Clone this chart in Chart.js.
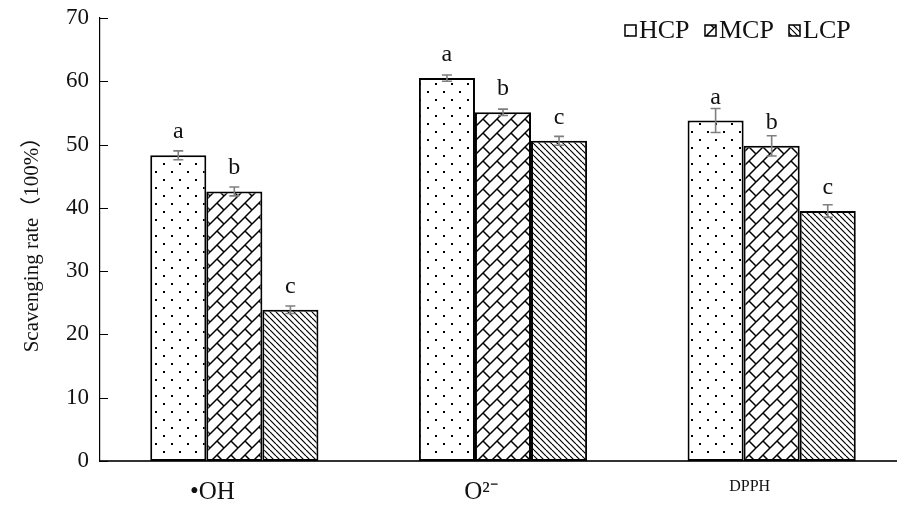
<!DOCTYPE html>
<html>
<head>
<meta charset="utf-8">
<script src="https://cdn.jsdelivr.net/npm/chart.js@4.4.1/dist/chart.umd.min.js"></script>
<style>
  html, body { margin: 0; padding: 0; background: #fff; overflow: hidden; }
  #wrap { width: 906px; height: 506px; }
</style>
</head>
<body>
<div id="wrap"><canvas id="myChart" width="906" height="506"></canvas></div>
<script>
/* global Chart */

const categories = ['•OH', 'O²⁻', 'DPPH'];
const seriesNames = ['HCP', 'MCP', 'LCP'];
const hcpValues = [48.3, 60.5, 53.8];
const mcpValues = [42.6, 55.1, 49.8];
const lcpValues = [23.9, 50.6, 39.5];
const hcpErrors = [0.7, 0.5, 1.9];
const mcpErrors = [0.7, 0.5, 1.6];
const lcpErrors = [0.6, 0.7, 1.0];
const hcpLetters = ['a', 'a', 'a'];
const mcpLetters = ['b', 'b', 'b'];
const lcpLetters = ['c', 'c', 'c'];
const yMin = 0;
const yMax = 70;
const yStep = 10;

const serif = '"Liberation Serif", "Times New Roman", "Noto Sans CJK SC", serif';

// fill patterns
function makeTile(size, draw) {
  const c = document.createElement('canvas');
  c.width = size;
  c.height = size;
  const g = c.getContext('2d');
  g.fillStyle = '#fff';
  g.fillRect(0, 0, size, size);
  draw(g, size);
  return document.createElement('canvas').getContext('2d').createPattern(c, 'repeat');
}

const dotFill = makeTile(16, function(g) {
  g.fillStyle = '#000';
  g.fillRect(3, 3, 2, 2);
  g.fillRect(11, 11, 2, 2);
});

const brickFill = makeTile(14, function(g, s) {
  g.strokeStyle = '#000';
  g.lineWidth = 1.5;
  for (let dx = -s; dx <= s; dx += s) {
    for (let dy = -s; dy <= s; dy += s) {
      g.beginPath();
      g.moveTo(dx, dy + s);
      g.lineTo(dx + s, dy);
      g.moveTo(dx + s / 2, dy + s / 2);
      g.lineTo(dx + s, dy + s);
      g.stroke();
    }
  }
});

const lineFill = makeTile(6, function(g, s) {
  g.strokeStyle = '#000';
  g.lineWidth = 1.2;
  for (let dx = -s; dx <= s; dx += s) {
    g.beginPath();
    g.moveTo(dx, 0);
    g.lineTo(dx + s, s);
    g.stroke();
  }
});

const marks = {
  id: 'marks',
  afterDatasetsDraw(chart) {
    const ctx = chart.ctx;
    const y = chart.scales.y;
    const area = chart.chartArea;
    ctx.save();
    // error bars and letters
    chart.data.datasets.forEach(function(ds, di) {
      const meta = chart.getDatasetMeta(di);
      meta.data.forEach(function(bar, i) {
        const v = ds.data[i];
        const e = ds.errors[i];
        const t = y.getPixelForValue(v + e);
        const b = y.getPixelForValue(v - e);
        ctx.strokeStyle = '#7f7f7f';
        ctx.lineWidth = 1.6;
        ctx.beginPath();
        ctx.moveTo(bar.x, t);
        ctx.lineTo(bar.x, b);
        ctx.moveTo(bar.x - 5, t);
        ctx.lineTo(bar.x + 5, t);
        ctx.moveTo(bar.x - 5, b);
        ctx.lineTo(bar.x + 5, b);
        ctx.stroke();
        ctx.fillStyle = '#111';
        ctx.font = '24px ' + serif;
        ctx.textAlign = 'center';
        ctx.textBaseline = 'alphabetic';
        ctx.fillText(ds.letters[i], bar.x, bar.y - 17);
      });
    });
    // inner tick marks on the y axis
    ctx.strokeStyle = '#000';
    ctx.lineWidth = 1;
    y.ticks.forEach(function(tk) {
      const py = Math.round(y.getPixelForValue(tk.value)) + 0.5;
      ctx.beginPath();
      ctx.moveTo(area.left, py);
      ctx.lineTo(area.left + 8, py);
      ctx.stroke();
    });
    ctx.restore();
  },
  afterDraw(chart) {
    const ctx = chart.ctx;
    const boxX = [625, 705, 789];
    ctx.save();
    ctx.font = '26px ' + serif;
    ctx.textBaseline = 'alphabetic';
    ctx.textAlign = 'left';
    chart.data.datasets.forEach(function(ds, i) {
      ctx.fillStyle = ds.backgroundColor;
      ctx.fillRect(boxX[i], 25, 11, 11);
      ctx.strokeStyle = '#000';
      ctx.lineWidth = 1.5;
      ctx.strokeRect(boxX[i], 25, 11, 11);
      ctx.fillStyle = '#111';
      ctx.fillText(ds.label, boxX[i] + 14, 38);
    });
    ctx.restore();
  }
};

const ctx = document.getElementById('myChart').getContext('2d');

const chart = new Chart(ctx, {
  type: 'bar',
  data: {
    labels: categories,
    datasets: [{
      label: seriesNames[0],
      data: hcpValues,
      errors: hcpErrors,
      letters: hcpLetters,
      backgroundColor: dotFill,
    },
    {
      label: seriesNames[1],
      data: mcpValues,
      errors: mcpErrors,
      letters: mcpLetters,
      backgroundColor: brickFill,
    },
    {
      label: seriesNames[2],
      data: lcpValues,
      errors: lcpErrors,
      letters: lcpLetters,
      backgroundColor: lineFill,
    }]
  },
  options: {
    responsive: false,
    animation: false,
    layout: { padding: { top: 18, right: 0, left: 0, bottom: 0 } },
    datasets: {
      bar: {
        borderColor: '#000',
        borderWidth: 2,
        borderSkipped: false,
        categoryPercentage: 0.626,
        barPercentage: 1,
      }
    },
    plugins: {
      legend: { display: false },
      tooltip: { enabled: false },
    },
    scales: {
      x: {
        grid: { display: false },
        border: { display: true, color: '#333', width: 2 },
        ticks: {
          color: '#111',
          padding: 8,
          labelOffset: -22,
          font: function(c) {
            return { family: serif, size: c.index === 2 ? 16 : 25 };
          },
        },
        afterFit: function(s) { s.height = 45; },
      },
      y: {
        min: yMin,
        max: yMax,
        grid: { display: false },
        border: { display: true, color: '#000', width: 1.2 },
        ticks: {
          stepSize: yStep,
          padding: 3,
          color: '#111',
          font: { family: serif, size: 23 },
        },
        title: {
          display: true,
          text: 'Scavenging rate（100%）',
          color: '#111',
          font: { family: serif, size: 21 },
          padding: { top: 20, bottom: 0 },
        },
        afterFit: function(s) { s.width = 100; },
      }
    }
  },
  plugins: [marks],
});
console.log(chart.chartArea);
</script>
</body>
</html>
